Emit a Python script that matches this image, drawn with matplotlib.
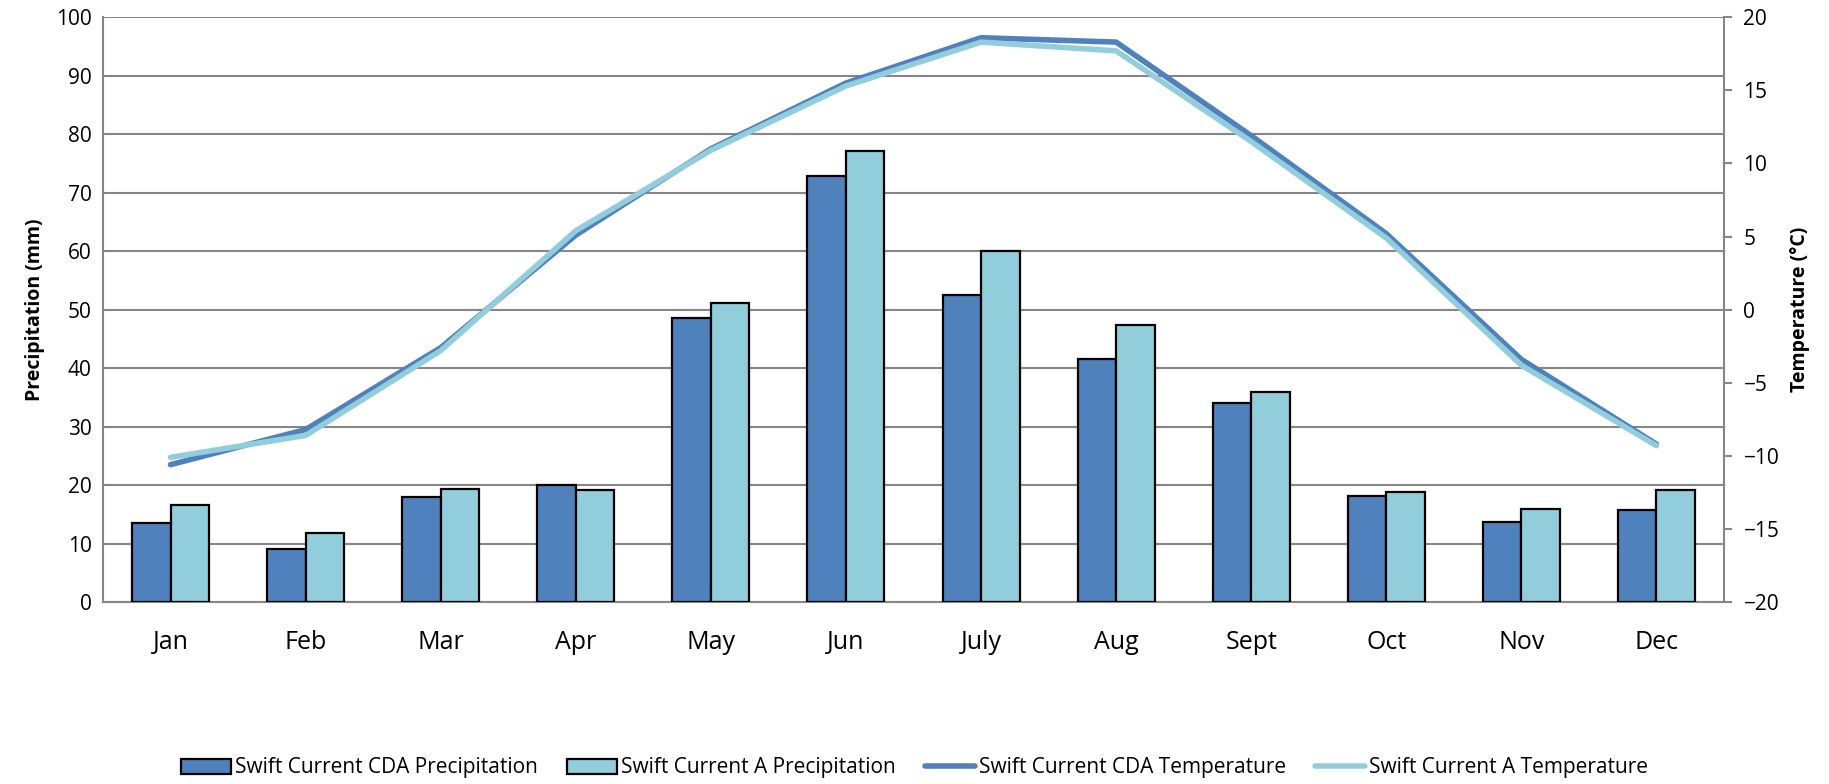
import numpy as np
import matplotlib.pyplot as plt
from matplotlib.ticker import MultipleLocator

months = ['Jan', 'Feb', 'Mar', 'Apr', 'May', 'Jun', 'July', 'Aug', 'Sept', 'Oct', 'Nov', 'Dec']

# precipitation (mm)
precip_cda = [13.5, 9.0, 18.0, 20.0, 48.5, 72.8, 52.5, 41.5, 34.1, 18.1, 13.7, 15.8]
precip_a = [16.6, 11.8, 19.4, 19.1, 51.2, 77.1, 60.1, 47.4, 36.0, 18.9, 15.9, 19.1]

# temperature (°C)
temp_cda = [-10.6, -8.2, -2.6, 5.1, 11.0, 15.5, 18.6, 18.3, 11.9, 5.2, -3.4, -9.2]
temp_a = [-10.1, -8.6, -2.8, 5.4, 10.9, 15.3, 18.3, 17.7, 11.5, 4.9, -3.8, -9.3]

c_dark = '#4F81BD'
c_light = '#92CDDC'
grid_c = '#868686'

plt.rcParams['font.family'] = ['Open Sans', 'DejaVu Sans']

fig = plt.figure(figsize=(18.29, 7.84), dpi=100)
ax = fig.add_axes([0.0563, 0.232, 0.8863, 0.746])

x = np.arange(len(months))
w = 0.285
ax.bar(x - w / 2, precip_cda, w, color=c_dark, edgecolor='black', linewidth=1.6,
       label='Swift Current CDA Precipitation', zorder=3)
ax.bar(x + w / 2, precip_a, w, color=c_light, edgecolor='black', linewidth=1.6,
       label='Swift Current A Precipitation', zorder=3)

ax.set_xlim(-0.5, len(months) - 0.5)
ax.set_ylim(0, 100)
ax.yaxis.set_major_locator(MultipleLocator(10))
ax.grid(axis='y', color=grid_c, linewidth=1.5, zorder=0)
ax.set_axisbelow(True)
ax.set_xticks(x)
ax.set_xticklabels(months, fontsize=18)
ax.tick_params(axis='x', length=0, pad=20)
ax.tick_params(axis='y', length=0, labelsize=15, pad=8)
for s in ['top', 'right']:
    ax.spines[s].set_visible(False)
for s in ['left', 'bottom']:
    ax.spines[s].set_color(grid_c)
    ax.spines[s].set_linewidth(1.5)
ax.set_ylabel('Precipitation (mm)', fontsize=14, fontweight='bold', labelpad=8)

ax2 = ax.twinx()
ax2.plot(x, temp_cda, color=c_dark, linewidth=4, solid_capstyle='round',
         label='Swift Current CDA Temperature')
ax2.plot(x, temp_a, color=c_light, linewidth=4, solid_capstyle='round',
         label='Swift Current A Temperature')
ax2.set_ylim(-20, 20)
ax2.yaxis.set_major_locator(MultipleLocator(5))
ax2.tick_params(axis='y', length=6, width=1.5, color=grid_c, labelsize=15, pad=8)
for s in ['top', 'left', 'bottom']:
    ax2.spines[s].set_visible(False)
ax2.spines['right'].set_color(grid_c)
ax2.spines['right'].set_linewidth(1.5)
ax2.set_ylabel('Temperature (°C)', fontsize=14, fontweight='bold', labelpad=8)

h1, l1 = ax.get_legend_handles_labels()
h2, l2 = ax2.get_legend_handles_labels()
fig.legend(h1 + h2, l1 + l2, loc='center', bbox_to_anchor=(0.5, 1 - 768 / 784),
           ncol=4, frameon=False, fontsize=15, handlelength=2.4, columnspacing=1.4,
           handletextpad=0.2)

fig.savefig('out.png', dpi=100)
